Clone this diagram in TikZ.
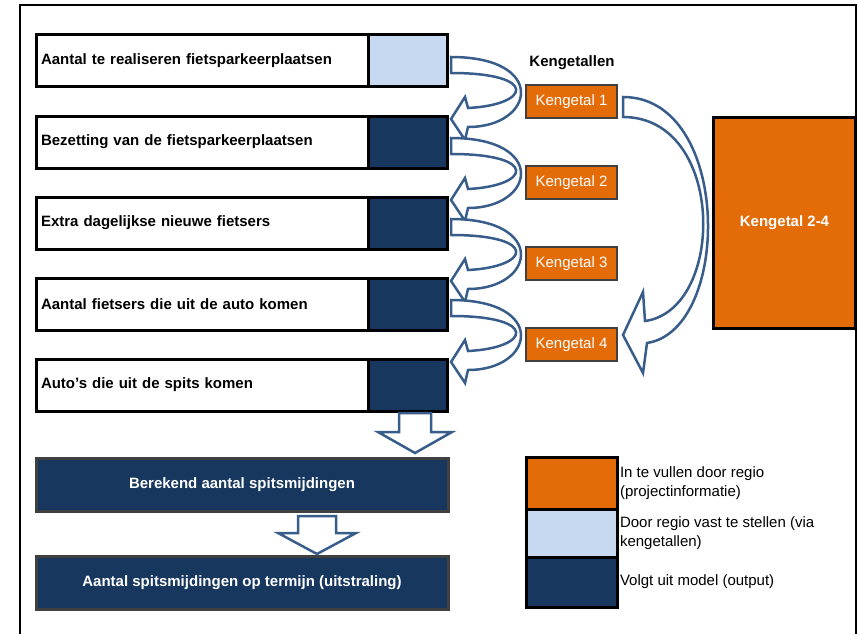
\documentclass[tikz,border=0pt]{standalone}
\usepackage{fontspec}
\setmainfont{Liberation Sans}
\definecolor{orng}{HTML}{E36C09}
\definecolor{navy}{HTML}{17375E}
\definecolor{ltblue}{HTML}{C6D9F1}
\definecolor{arrowblue}{HTML}{385D8A}
\definecolor{dgray}{HTML}{404040}
\begin{document}
\begin{tikzpicture}[x=1pt,y=-1pt,
  every node/.style={font=\fontsize{15}{18}\selectfont,outer sep=0pt},
  rowlbl/.style={draw=black,line width=3pt,fill=white,anchor=north west,minimum height=52pt,text width=322pt,inner xsep=5pt,inner ysep=0pt,align=left,font=\fontsize{15}{18}\selectfont\bfseries},
  rowsq/.style={draw=black,line width=3pt,anchor=north west,minimum height=52pt,minimum width=79pt,inner sep=0pt},
  kbox/.style={draw=dgray,line width=2.5pt,fill=orng,text=white,anchor=north west,minimum height=33pt,minimum width=91pt,inner sep=0pt},
  outbox/.style={draw=dgray,line width=3pt,fill=navy,text=white,anchor=north west,minimum height=53pt,minimum width=412pt,inner sep=0pt,font=\fontsize{15}{18}\selectfont\bfseries},
  legsq/.style={draw=black,line width=3pt,anchor=north west,minimum width=91pt,inner sep=0pt},
  legtxt/.style={anchor=west,inner sep=0pt,align=left,font=\fontsize{15}{19}\selectfont},
  barrow/.style={draw=arrowblue,line width=2.5pt,fill=white,line join=miter}
]
\useasboundingbox (0,0) rectangle (857,634);
% frame
\draw[line width=2pt] (20,640) -- (20,5) -- (855.5,5) -- (855.5,640);

% rows
\node[rowlbl] (l1) at (36,35) {Aantal te realiseren fietsparkeerplaatsen};
\node[rowlbl] (l2) at (36,116) {Bezetting van de fietsparkeerplaatsen};
\node[rowlbl] (l3) at (36,197) {Extra dagelijkse nieuwe fietsers};
\node[rowlbl] (l4) at (36,278) {Aantal fietsers die uit de auto komen};
\node[rowlbl] (l5) at (36,359) {Auto's die uit de spits komen};
\node[rowsq,fill=ltblue] (c1) at (l1.north east) {};
\node[rowsq,fill=navy] (c2) at (l2.north east) {};
\node[rowsq,fill=navy] (c3) at (l3.north east) {};
\node[rowsq,fill=navy] (c4) at (l4.north east) {};
\node[rowsq,fill=navy] (c5) at (l5.north east) {};

% kengetallen
\node[font=\fontsize{15}{18}\selectfont\bfseries] (kt) at (572,63) {Kengetallen};
\node[kbox] (k1) at (526,85) {Kengetal 1};
\node[kbox] (k2) at (526,166) {Kengetal 2};
\node[kbox] (k3) at (526,247) {Kengetal 3};
\node[kbox] (k4) at (526,328) {Kengetal 4};
\node[draw=black,line width=3pt,fill=orng,text=white,anchor=north west,minimum width=142pt,minimum height=211pt,inner sep=0pt,font=\fontsize{15}{18}\selectfont\bfseries] (k24) at (713.5,117) {Kengetal 2-4};

% curved arrows between rows
\foreach \i in {1,...,4}{
  \draw[barrow,shift={(c\i.north east)}]
    (4,22) .. controls (101,22) and (88,92) .. (21,92)
    -- (18,105) -- (4,84) -- (18,62) -- (21,73)
    .. controls (83,70) and (93,38) .. (4,38) -- cycle;
}
% big arrow from Kengetal 1 to Kengetal 4
\draw[barrow,shift={(k1.north east)}]
  (6,12) .. controls (115,12) and (115,245) .. (30,258)
  -- (26,288) -- (6,250) -- (26,207) -- (28,236)
  .. controls (109,225) and (109,32) .. (6,32) -- cycle;

% output boxes
\node[outbox] (o1) at (36,458) {Berekend aantal spitsmijdingen};
\node[outbox] (o2) at (36,556) {Aantal spitsmijdingen op termijn (uitstraling)};

% down arrows
\coordinate (d1) at (415,413);
\coordinate (d2) at (317,516);
\draw[barrow,shift={(d1)}] (-16,0) -- (16,0) -- (16,19) -- (37,19) -- (0,40) -- (-37,19) -- (-16,19) -- cycle;
\draw[barrow,shift={(d2)}] (-19,0) -- (19,0) -- (19,17) -- (39,17) -- (0,38) -- (-39,17) -- (-19,17) -- cycle;

% legend
\node[legsq,fill=orng,minimum height=52pt] (g1) at (526,457) {};
\node[legsq,fill=ltblue,minimum height=48pt] (g2) at (g1.south west) {};
\node[legsq,fill=navy,minimum height=50pt] (g3) at (g2.south west) {};
\node[legtxt] (t1) at (620,483.5) {In te vullen door regio\\(projectinformatie)};
\node[legtxt] (t2) at (620,533.5) {Door regio vast te stellen (via\\kengetallen)};
\node[legtxt] (t3) at (620,582) {Volgt uit model (output)};
\end{tikzpicture}
\end{document}
